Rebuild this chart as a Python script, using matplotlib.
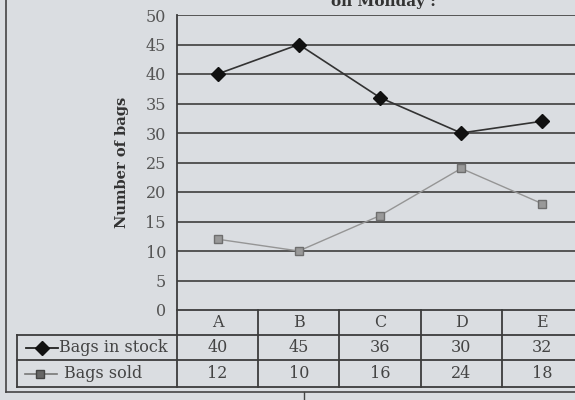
import matplotlib
matplotlib.use("Agg")
import matplotlib.pyplot as plt
from matplotlib.lines import Line2D
from matplotlib.transforms import blended_transform_factory

# data
shops = ["A", "B", "C", "D", "E"]
bags_in_stock = [40, 45, 36, 30, 32]
bags_sold = [12, 10, 16, 24, 18]
y_ticks = list(range(0, 55, 5))

W, H = 575, 400
bg = "#dadde1"
ink = "#3c3c3c"
plt.rcParams["font.family"] = ["DejaVu Serif"]


def fx(px):
    return px / W


def fy(py):
    return 1 - py / H


fig = plt.figure(figsize=(W / 100, H / 100), dpi=100, facecolor=bg)
# plot area runs slightly past the right edge, like the scanned page
ax = fig.add_axes([fx(177), fy(310), 406 / W, 295 / H])
ax.set_facecolor(bg)

x = list(range(len(shops)))
ax.plot(x, bags_in_stock, color="#333333", lw=1.2, marker="D", ms=7,
        mfc="#111111", mec="#111111", zorder=3)
ax.plot(x, bags_sold, color="#959595", lw=1.0, marker="s", ms=6,
        mfc="#999999", mec="#6e6e6e", zorder=3)

ax.set_xlim(-0.5, len(shops) - 0.5)
ax.set_ylim(0, 50)
ax.set_yticks(y_ticks)
ax.set_xticks([])
for t in y_ticks[1:]:
    ax.axhline(t, color="#4a4a4a", lw=1.3, zorder=1)
ax.tick_params(axis="y", length=0, pad=8, labelsize=11.5, labelcolor="#555555")
for side in ["top", "right", "bottom", "left"]:
    ax.spines[side].set_visible(False)
ax.set_ylabel("Number of bags", fontsize=10.5, fontweight="bold",
              color="#333333", labelpad=12)

# data table under the chart, drawn by hand
def hline(y, x0, x1):
    fig.add_artist(Line2D([fx(x0), fx(x1)], [fy(y), fy(y)], color=ink, lw=1.3))


def vline(x0, y0, y1):
    fig.add_artist(Line2D([fx(x0), fx(x0)], [fy(y0), fy(y1)], color=ink, lw=1.3))


row_edges = [310, 335, 360, 387]
hline(row_edges[0], 177, W)
for y in row_edges[1:]:
    hline(y, 17, W)
vline(17, 335, 387)
vline(177, 15, 387)  # y axis continues down through the table
col_tr = blended_transform_factory(ax.transData, fig.transFigure)
for i in range(1, len(shops)):
    fig.add_artist(Line2D([i - 0.5, i - 0.5], [fy(310), fy(387)],
                          transform=col_tr, color=ink, lw=1.3))

rows = [shops, [str(v) for v in bags_in_stock], [str(v) for v in bags_sold]]
for r, vals in enumerate(rows):
    yc = fy((row_edges[r] + row_edges[r + 1]) / 2)
    for i, v in enumerate(vals):
        fig.text(i, yc, v, transform=col_tr, ha="center", va="center",
                 fontsize=11.5, color="#444444")

# row labels with legend keys
yc1 = fy((row_edges[1] + row_edges[2]) / 2)
yc2 = fy((row_edges[2] + row_edges[3]) / 2)
fig.add_artist(Line2D([fx(26), fx(58)], [yc1, yc1], color="#222222", lw=1.3))
fig.add_artist(Line2D([fx(42)], [yc1], marker="D", ms=7.5, color="#111111"))
fig.text(fx(59), yc1, "Bags in stock", ha="left", va="center",
         fontsize=11.5, color="#444444")
fig.add_artist(Line2D([fx(25), fx(57)], [yc2, yc2], color="#777777", lw=1.2))
fig.add_artist(Line2D([fx(40)], [yc2], marker="s", ms=6,
                      mfc="#666666", mec="#444444"))
fig.text(fx(64), yc2, "Bags sold", ha="left", va="center",
         fontsize=11.5, color="#444444")

# title, cut off at the top of the scan
fig.text(fx(383), fy(6), "on Monday :", ha="center", va="baseline",
         fontsize=11, fontweight="bold", color="#333333")

# outer frame of the scanned figure
fig.add_artist(Line2D([fx(6), fx(6)], [1.0, fy(392)], color="#444444", lw=1.2))
fig.add_artist(Line2D([fx(6), 1.0], [fy(392), fy(392)], color="#444444", lw=1.2))
fig.add_artist(Line2D([fx(304), fx(304)], [fy(392), 0.0], color="#444444", lw=1.0))

fig.savefig("out.png", dpi=100, facecolor=bg)
